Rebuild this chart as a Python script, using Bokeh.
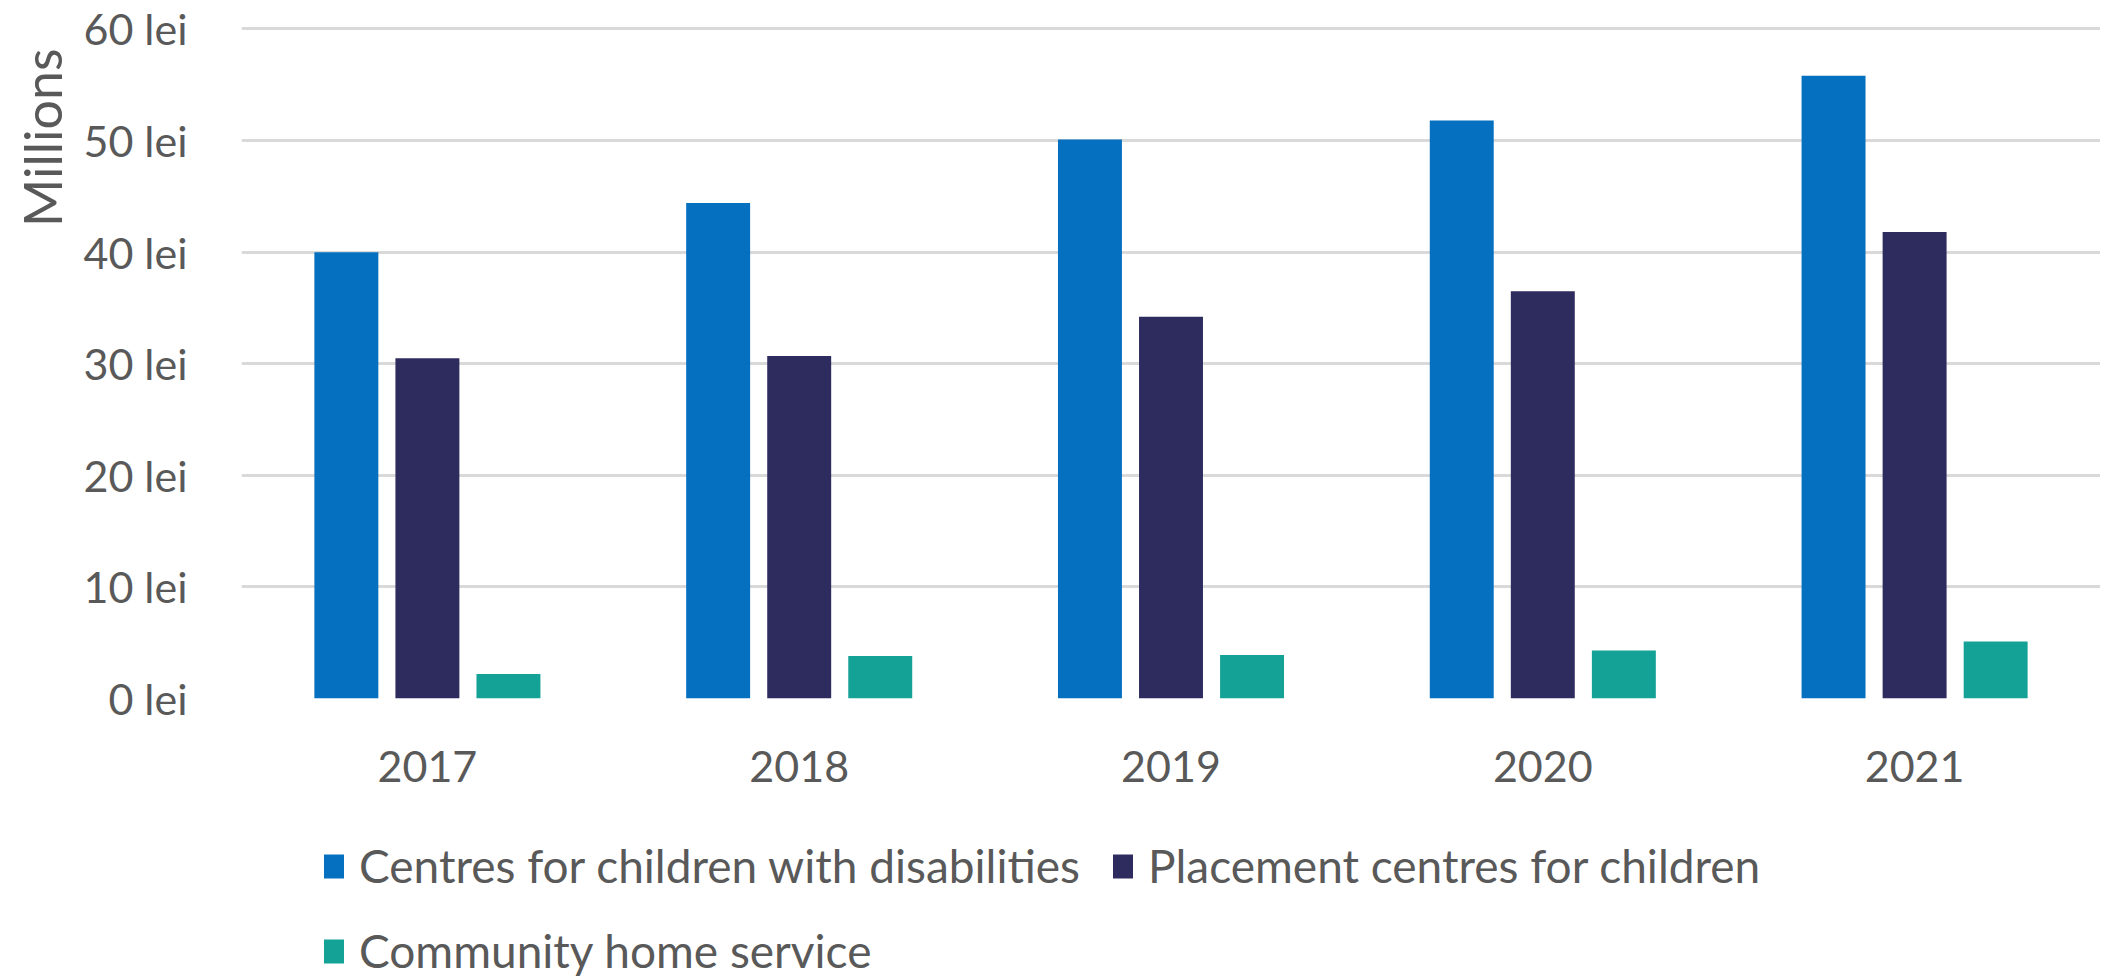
from bokeh.plotting import figure
from bokeh.layouts import column
from bokeh.models import (FactorRange, Range1d, FixedTicker, PrintfTickFormatter,
                          Legend, LegendItem, Title, ColumnDataSource)
from bokeh.transform import dodge
from bokeh.embed import file_html
from bokeh.resources import INLINE

years = ["2017", "2018", "2019", "2020", "2021"]
disabilities = [40.0, 44.4, 50.1, 51.8, 55.8]
placement = [30.5, 30.7, 34.2, 36.5, 41.8]
community = [2.2, 3.8, 3.9, 4.3, 5.1]
series_names = ["Centres for children with disabilities",
                "Placement centres for children",
                "Community home service"]
colors = ["#0570BF", "#2E2B5F", "#15A296"]
y_ticks = [0, 10, 20, 30, 40, 50, 60]

FONT = "Lato"
GREY = "#595959"

src = ColumnDataSource(dict(year=years, a=disabilities, b=placement, c=community))

p = figure(width=2100, height=800, x_range=FactorRange(*years),
           y_range=Range1d(0, 60.4), output_backend="svg", toolbar_location=None,
           min_border_left=239, min_border_right=0, min_border_top=24,
           min_border_bottom=102)
p.outline_line_color = None
p.background_fill_color = "white"

for key, off, col in zip(["a", "b", "c"], [-0.218, 0.0, 0.218], colors):
    p.vbar(x=dodge("year", off, range=p.x_range), top=key, width=0.172,
           source=src, fill_color=col, line_color=None)

p.xgrid.grid_line_color = None
p.ygrid.grid_line_color = "#D9D9D9"
p.ygrid.grid_line_width = 3
p.ygrid.ticker = FixedTicker(ticks=y_ticks)

p.yaxis.ticker = FixedTicker(ticks=y_ticks)
p.yaxis.formatter = PrintfTickFormatter(format="%d lei")
p.yaxis.axis_line_color = None
p.yaxis.major_tick_line_color = None
p.yaxis.minor_tick_line_color = None
p.yaxis.major_label_standoff = 48
p.yaxis.major_label_text_font = FONT
p.yaxis.major_label_text_font_size = "43px"
p.yaxis.major_label_text_color = GREY

p.xaxis.axis_line_color = None
p.xaxis.major_tick_line_color = None
p.xaxis.major_label_standoff = 46
p.xaxis.major_label_text_font = FONT
p.xaxis.major_label_text_font_size = "43px"
p.xaxis.major_label_text_color = GREY

t = Title(text="Millions", align="right", offset=24, standoff=16,
          text_font=FONT, text_font_size="52px", text_color=GREY,
          text_font_style="normal")
p.add_layout(t, "left")

# legend panel below the chart
lg = figure(width=2100, height=178, x_range=Range1d(0, 1), y_range=Range1d(0, 1),
            output_backend="svg", toolbar_location=None,
            min_border_left=0, min_border_right=0, min_border_top=0,
            min_border_bottom=0)
lg.outline_line_color = None
lg.axis.visible = False
lg.grid.visible = False
proxies = [lg.vbar(x=[0], top=[0], width=0, fill_color=c, line_color=None)
           for c in colors]
items = [LegendItem(label=n, renderers=[r]) for n, r in zip(series_names, proxies)]
legend = Legend(items=items, orientation="horizontal", ncols=2,
                location=(80, 0), label_text_font=FONT,
                label_text_font_size="46px", label_text_color=GREY,
                label_text_line_height=1.0,
                glyph_width=25, glyph_height=30, label_standoff=13,
                label_height=46, spacing=30, padding=0, margin=0,
                border_line_color=None, background_fill_alpha=0)
lg.add_layout(legend, "center")

layout = column(p, lg, spacing=0)
open("out.html", "w").write(file_html(layout, INLINE))
